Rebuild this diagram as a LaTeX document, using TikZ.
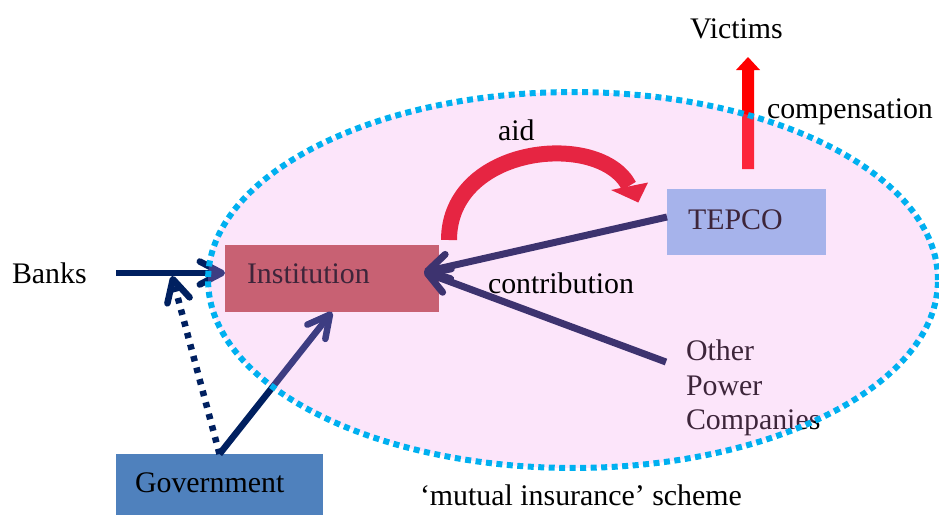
\documentclass[tikz,border=0pt]{standalone}
\usepackage{fontspec}
\setmainfont{Liberation Serif}
\usetikzlibrary{arrows.meta}
\definecolor{navy}{RGB}{0,32,96}
\definecolor{navyin}{RGB}{0,18,70}
\definecolor{instred}{RGB}{185,80,75}
\definecolor{tepcoblue}{RGB}{140,190,236}
\definecolor{govblue}{RGB}{79,129,189}
\definecolor{screenpink}{RGB}{245,150,235}
\definecolor{dotcyan}{RGB}{0,176,240}
\definecolor{aidred}{RGB}{225,0,10}
\begin{document}
\begin{tikzpicture}[x=0.02cm,y=-0.02cm,
  every node/.style={font=\fontsize{17pt}{20pt}\selectfont, inner sep=0pt, outer sep=0pt},
  txt/.style={anchor=base west},
  boxshape/.style={rectangle, draw=none},
  navyarrow/.style={draw=navy, line width=0.13cm, -{Straight Barb[round,length=0.44cm,width=0.46cm]}},
  navydots/.style={navyarrow, dash pattern=on 0.11cm off 0.13cm},
  contribarrow/.style={draw=navyin, line width=0.14cm, -{Straight Barb[round,length=0.42cm,width=0.5cm]}},
  aidband/.style={draw=aidred, line width=0.32cm},
  screen/.style={fill=screenpink, fill opacity=0.25},
  ring/.style={draw=dotcyan, line width=0.12cm, dash pattern=on 0.12cm off 0.09cm}
]
\useasboundingbox (0,0) rectangle (939,515);

% boxes
\node[boxshape, fill=govblue, minimum width=4.14cm, minimum height=1.22cm] (gov) at (219.5,484.5) {};
\node[boxshape, fill=instred, minimum width=4.28cm, minimum height=1.34cm] (inst) at (332,278.5) {};
\node[boxshape, fill=tepcoblue, minimum width=3.18cm, minimum height=1.32cm] (tepco) at (746.5,222) {};

% texts under the screen
\node[txt] (insttext) at (247,283) {Institution};
\node[txt] (tepcotext) at (688,229) {TEPCO};
\node[txt] (oth1) at (686,360) {Other};
\node[txt] (oth2) at (686,395) {Power};
\node[txt] (oth3) at (686,429) {Companies};

% connector end points
\coordinate (bstart) at (116,273);
\coordinate (bjoin) at (172,276);
\coordinate (ctip) at (424,272);
\coordinate (tstart) at (667,217);
\coordinate (ostart) at (666,362);
\coordinate (aidstart) at (449,240);
\coordinate (aidend) at (629,186);

% arrows
\draw[navyarrow] (bstart) -- (inst.west |- bstart);
\draw[navydots] (gov.north) -- (bjoin);
\draw[navyarrow] (gov.north) -- (inst.south);
\draw[contribarrow] (tstart) -- (ctip);
\draw[contribarrow] (ostart) -- (ctip);
\draw[aidband] (aidstart) .. controls (449,145) and (600,130) .. (aidend);
\fill[aidred] (611,190) -- (648,182.5) -- (638.3,202.5) -- cycle;
\fill[red] (742,169) -- (742,70) -- (736,70) -- (748,57) -- (760,70) -- (754,70) -- (754,169) -- cycle;

% scheme ellipse
\fill[screen] (573,280) ellipse [x radius=7.3cm, y radius=3.76cm];
\draw[ring] (573,280) ellipse [x radius=7.3cm, y radius=3.76cm];

% labels
\node[txt] (banks) at (12,283) {Banks};
\node[txt] (victims) at (690,38) {Victims};
\node[txt] (comp) at (767,118) {compensation};
\node[txt] (aid) at (498,140) {aid};
\node[txt] (contrib) at (488,293) {contribution};
\node[txt] (govtext) at (135,492) {Government};
\node[txt] (mutual) at (420,505) {‘mutual insurance’ scheme};
\end{tikzpicture}
\end{document}
